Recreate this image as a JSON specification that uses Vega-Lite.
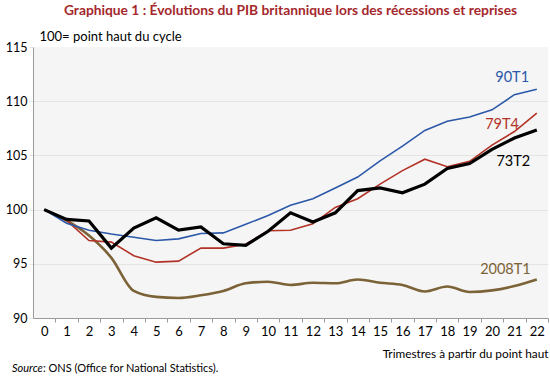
{
  "$schema": "https://vega.github.io/schema/vega-lite/v6.json",
  "width": 550,
  "height": 376,
  "autosize": {"type": "fit", "contains": "padding"},
  "padding": {"left": 5, "right": 2, "top": 4, "bottom": 2},
  "background": "white",
  "config": {
    "view": {"fill": "#f5f5f5", "stroke": null},
    "font": "Lato",
    "axis": {"labelFont": "Lato", "titleFont": "Lato"},
    "title": {"font": "Lato"}
  },
  "title": {
    "text": "Graphique 1 : Évolutions du PIB britannique lors des récessions et reprises",
    "fontSize": 13.8,
    "fontWeight": "bold",
    "color": "#a4282c",
    "anchor": "middle",
    "offset": 12
  },
  "datasets": {
    "gdp": [
      {"t": 0, "s": "73T2", "v": 100}, {"t": 1, "s": "73T2", "v": 99.1}, {"t": 2, "s": "73T2", "v": 98.95}, {"t": 3, "s": "73T2", "v": 96.45}, {"t": 4, "s": "73T2", "v": 98.3}, {"t": 5, "s": "73T2", "v": 99.25}, {"t": 6, "s": "73T2", "v": 98.1}, {"t": 7, "s": "73T2", "v": 98.4}, {"t": 8, "s": "73T2", "v": 96.85}, {"t": 9, "s": "73T2", "v": 96.7}, {"t": 10, "s": "73T2", "v": 98.0}, {"t": 11, "s": "73T2", "v": 99.7}, {"t": 12, "s": "73T2", "v": 98.85}, {"t": 13, "s": "73T2", "v": 99.7}, {"t": 14, "s": "73T2", "v": 101.75}, {"t": 15, "s": "73T2", "v": 102.0}, {"t": 16, "s": "73T2", "v": 101.55}, {"t": 17, "s": "73T2", "v": 102.35}, {"t": 18, "s": "73T2", "v": 103.8}, {"t": 19, "s": "73T2", "v": 104.25}, {"t": 20, "s": "73T2", "v": 105.55}, {"t": 21, "s": "73T2", "v": 106.6}, {"t": 22, "s": "73T2", "v": 107.35},
      {"t": 0, "s": "90T1", "v": 100}, {"t": 1, "s": "90T1", "v": 98.75}, {"t": 2, "s": "90T1", "v": 98.1}, {"t": 3, "s": "90T1", "v": 97.75}, {"t": 4, "s": "90T1", "v": 97.45}, {"t": 5, "s": "90T1", "v": 97.15}, {"t": 6, "s": "90T1", "v": 97.3}, {"t": 7, "s": "90T1", "v": 97.8}, {"t": 8, "s": "90T1", "v": 97.85}, {"t": 9, "s": "90T1", "v": 98.65}, {"t": 10, "s": "90T1", "v": 99.45}, {"t": 11, "s": "90T1", "v": 100.4}, {"t": 12, "s": "90T1", "v": 101.0}, {"t": 13, "s": "90T1", "v": 102.0}, {"t": 14, "s": "90T1", "v": 103.0}, {"t": 15, "s": "90T1", "v": 104.5}, {"t": 16, "s": "90T1", "v": 105.85}, {"t": 17, "s": "90T1", "v": 107.3}, {"t": 18, "s": "90T1", "v": 108.15}, {"t": 19, "s": "90T1", "v": 108.55}, {"t": 20, "s": "90T1", "v": 109.2}, {"t": 21, "s": "90T1", "v": 110.6}, {"t": 22, "s": "90T1", "v": 111.1},
      {"t": 0, "s": "79T4", "v": 100}, {"t": 1, "s": "79T4", "v": 99.0}, {"t": 2, "s": "79T4", "v": 97.15}, {"t": 3, "s": "79T4", "v": 97.0}, {"t": 4, "s": "79T4", "v": 95.75}, {"t": 5, "s": "79T4", "v": 95.15}, {"t": 6, "s": "79T4", "v": 95.25}, {"t": 7, "s": "79T4", "v": 96.45}, {"t": 8, "s": "79T4", "v": 96.45}, {"t": 9, "s": "79T4", "v": 96.8}, {"t": 10, "s": "79T4", "v": 98.05}, {"t": 11, "s": "79T4", "v": 98.1}, {"t": 12, "s": "79T4", "v": 98.7}, {"t": 13, "s": "79T4", "v": 100.2}, {"t": 14, "s": "79T4", "v": 101.0}, {"t": 15, "s": "79T4", "v": 102.35}, {"t": 16, "s": "79T4", "v": 103.6}, {"t": 17, "s": "79T4", "v": 104.65}, {"t": 18, "s": "79T4", "v": 103.95}, {"t": 19, "s": "79T4", "v": 104.45}, {"t": 20, "s": "79T4", "v": 105.95}, {"t": 21, "s": "79T4", "v": 107.2}, {"t": 22, "s": "79T4", "v": 108.9},
      {"t": 0, "s": "2008T1", "v": 100}, {"t": 1, "s": "2008T1", "v": 99.0}, {"t": 2, "s": "2008T1", "v": 97.6}, {"t": 3, "s": "2008T1", "v": 95.55}, {"t": 4, "s": "2008T1", "v": 92.5}, {"t": 5, "s": "2008T1", "v": 91.95}, {"t": 6, "s": "2008T1", "v": 91.85}, {"t": 7, "s": "2008T1", "v": 92.1}, {"t": 8, "s": "2008T1", "v": 92.5}, {"t": 9, "s": "2008T1", "v": 93.2}, {"t": 10, "s": "2008T1", "v": 93.35}, {"t": 11, "s": "2008T1", "v": 93.05}, {"t": 12, "s": "2008T1", "v": 93.25}, {"t": 13, "s": "2008T1", "v": 93.2}, {"t": 14, "s": "2008T1", "v": 93.55}, {"t": 15, "s": "2008T1", "v": 93.25}, {"t": 16, "s": "2008T1", "v": 93.05}, {"t": 17, "s": "2008T1", "v": 92.45}, {"t": 18, "s": "2008T1", "v": 92.9}, {"t": 19, "s": "2008T1", "v": 92.4}, {"t": 20, "s": "2008T1", "v": 92.55}, {"t": 21, "s": "2008T1", "v": 92.95}, {"t": 22, "s": "2008T1", "v": 93.55}
    ],
    "labels": [
      {"s": "90T1", "t": 20.9, "v": 112.1},
      {"s": "79T4", "t": 20.45, "v": 107.85},
      {"s": "73T2", "t": 20.95, "v": 104.4},
      {"s": "2008T1", "t": 20.6, "v": 94.4}
    ],
    "source": [
      {"a": "Source", "b": ": ONS (Office for National Statistics)."}
    ]
  },
  "layer": [
    {
      "data": {"name": "gdp"},
      "transform": [{"filter": "datum.s === '2008T1'"}],
      "mark": {"type": "line", "interpolate": "monotone", "color": "#7c6337", "strokeWidth": 2.6},
      "encoding": {
        "x": {
          "field": "t", "type": "quantitative",
          "scale": {"domain": [-0.5, 22.5], "nice": false, "zero": false},
          "axis": {
            "values": [0, 1, 2, 3, 4, 5, 6, 7, 8, 9, 10, 11, 12, 13, 14, 15, 16, 17, 18, 19, 20, 21, 22],
            "tickCount": 60,
            "format": "d",
            "tickOffset": 11.24,
            "labelOffset": -11.24,
            "labelOverlap": false,
            "labelFlush": false,
            "labelBound": false,
            "labelFontSize": 13,
            "labelColor": "#000",
            "labelPadding": 3,
            "grid": false,
            "domainColor": "#9a9a9a",
            "tickColor": "#9a9a9a",
            "tickSize": 4,
            "title": "Trimestres à partir du point haut",
            "titleFontSize": 11.8,
            "titleFontWeight": "normal",
            "titleColor": "#000",
            "titleAnchor": "end",
            "titleAlign": "right",
            "titleBaseline": "alphabetic",
            "titleY": 39
          }
        },
        "y": {
          "field": "v", "type": "quantitative",
          "scale": {"domain": [90, 115], "nice": false, "zero": false},
          "axis": {
            "values": [90, 95, 100, 105, 110, 115],
            "labelFontSize": 12.5,
            "labelColor": "#000",
            "labelPadding": 2,
            "grid": true,
            "gridColor": "#e4e4e4",
            "gridOpacity": {"condition": {"test": "datum.value === 90 || datum.value === 115", "value": 0}, "value": 1},
            "domainColor": "#9a9a9a",
            "tickColor": "#e4e4e4",
            "tickSize": 4,
            "title": "100= point haut du cycle",
            "titleAngle": 0,
            "titleAlign": "left",
            "titleBaseline": "alphabetic",
            "titleFontSize": 13,
            "titleFontWeight": "normal",
            "titleColor": "#000",
            "titleX": 6,
            "titleY": -7
          }
        }
      }
    },
    {
      "data": {"name": "gdp"},
      "transform": [{"filter": "datum.s === '79T4'"}],
      "mark": {"type": "line", "color": "#b23226", "strokeWidth": 1.6},
      "encoding": {
        "x": {"field": "t", "type": "quantitative"},
        "y": {"field": "v", "type": "quantitative"}
      }
    },
    {
      "data": {"name": "gdp"},
      "transform": [{"filter": "datum.s === '90T1'"}],
      "mark": {"type": "line", "color": "#2b58a8", "strokeWidth": 1.6},
      "encoding": {
        "x": {"field": "t", "type": "quantitative"},
        "y": {"field": "v", "type": "quantitative"}
      }
    },
    {
      "data": {"name": "gdp"},
      "transform": [{"filter": "datum.s === '73T2'"}],
      "mark": {"type": "line", "color": "#000000", "strokeWidth": 3.2},
      "encoding": {
        "x": {"field": "t", "type": "quantitative"},
        "y": {"field": "v", "type": "quantitative"}
      }
    },
    {
      "data": {"name": "labels"},
      "mark": {"type": "text", "fontSize": 14.5, "align": "center", "baseline": "middle"},
      "encoding": {
        "x": {"field": "t", "type": "quantitative"},
        "y": {"field": "v", "type": "quantitative"},
        "text": {"field": "s"},
        "color": {
          "field": "s", "type": "nominal", "legend": null,
          "scale": {"domain": ["90T1", "79T4", "73T2", "2008T1"], "range": ["#2b58a8", "#b23226", "#000000", "#7c6337"]}
        }
      }
    },
    {
      "data": {"name": "source"},
      "mark": {"type": "text", "fontSize": 11, "fontStyle": "italic", "align": "left", "baseline": "middle", "dx": -21, "dy": 51, "color": "#000"},
      "encoding": {
        "x": {"datum": -0.5, "type": "quantitative"},
        "y": {"datum": 90, "type": "quantitative"},
        "text": {"field": "a"}
      }
    },
    {
      "data": {"name": "source"},
      "mark": {"type": "text", "fontSize": 11, "align": "left", "baseline": "middle", "dx": 10, "dy": 51, "color": "#000"},
      "encoding": {
        "x": {"datum": -0.5, "type": "quantitative"},
        "y": {"datum": 90, "type": "quantitative"},
        "text": {"field": "b"}
      }
    }
  ]
}
